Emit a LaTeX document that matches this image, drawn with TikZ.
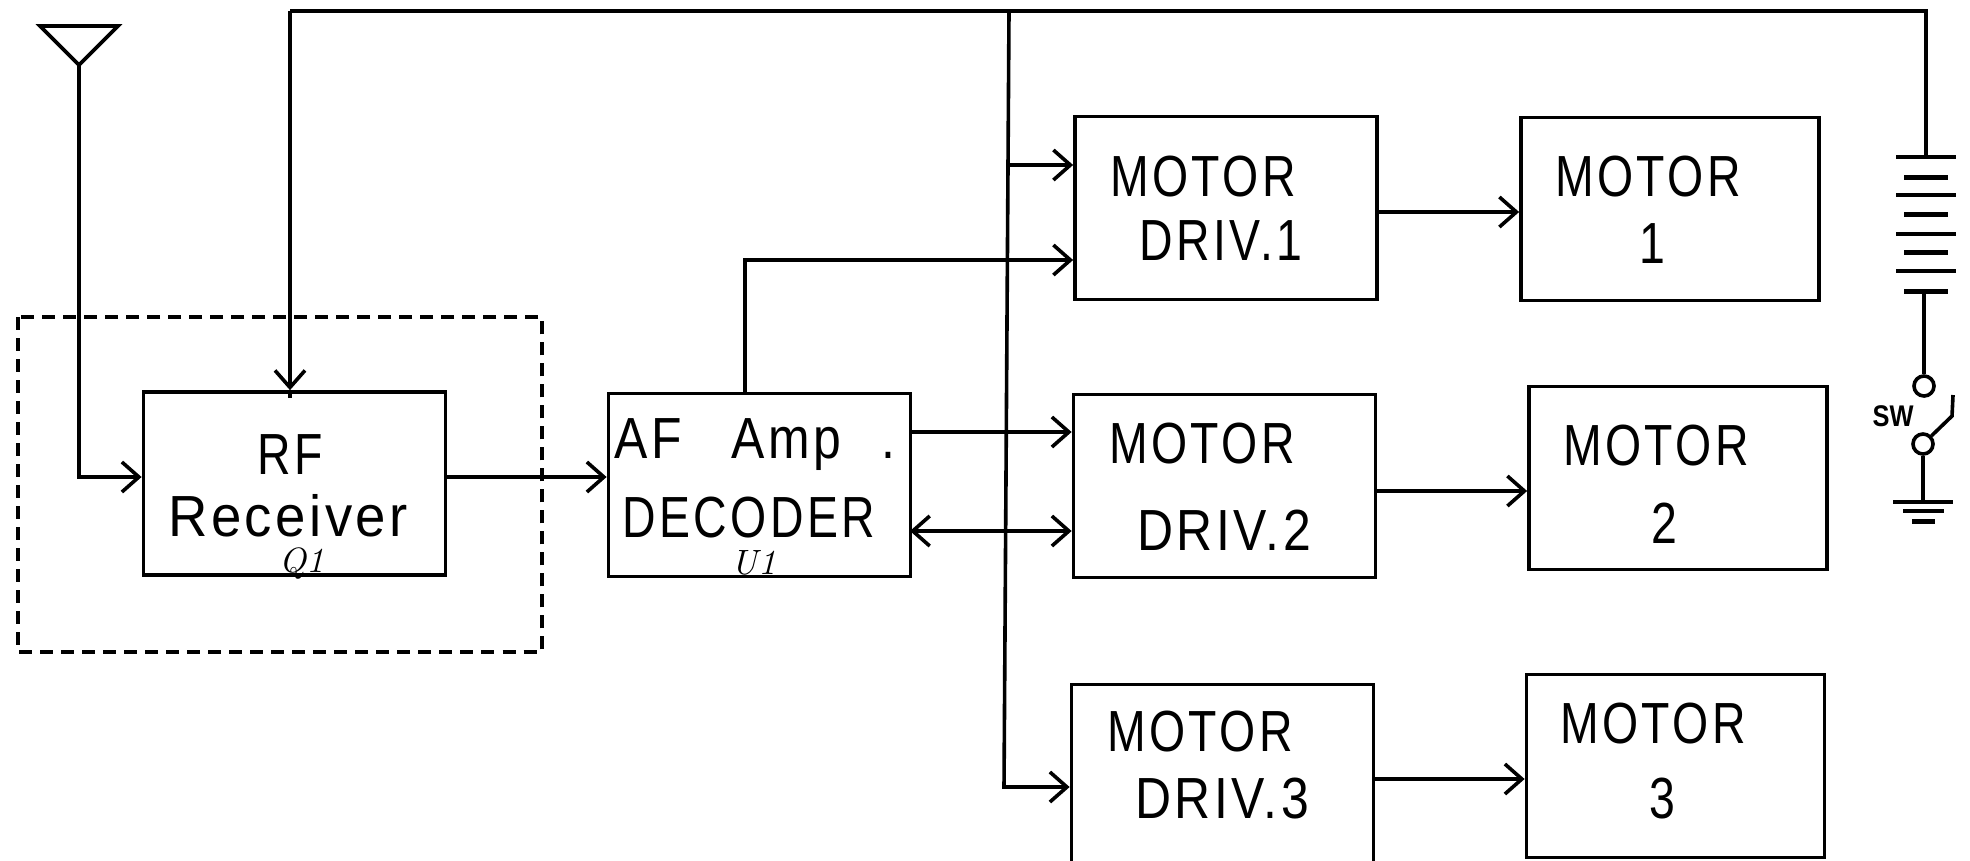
\documentclass[tikz,border=0pt]{standalone}
\usepackage{fontspec}
\setmainfont[FakeStretch=0.8,LetterSpace=6]{Liberation Sans}
\newfontfamily\handfont[Ligatures=TeX]{Latin Modern Roman}
\newfontfamily\swfont[FakeStretch=0.85]{Liberation Sans}
\usetikzlibrary{calc,positioning,arrows.meta}

\begin{document}
\begin{tikzpicture}[
	%	style def
	x=0.01cm,
	y=-0.01cm,
	important line/.style={line width=0.036cm,color=black},
	>={Straight Barb[length=0.17cm,width=0.3cm,line width=0.036cm]},
	block/.style={important line,draw,fill=none,inner sep=0pt,minimum width=3.02cm,minimum height=1.83cm},
	motor block/.style={block,minimum width=2.98cm},
	caption/.style={font=\fontsize{16.5pt}{18pt}\selectfont,inner sep=0pt},
	wide caption/.style={font=\fontsize{16.5pt}{18pt}\selectfont\addfontfeature{FakeStretch=0.86},inner sep=0pt},
	wider caption/.style={font=\fontsize{16.5pt}{18pt}\selectfont\addfontfeature{FakeStretch=0.94},inner sep=0pt},
	hand/.style={font=\handfont\itshape\fontsize{10pt}{12pt}\selectfont,inner sep=0pt},
	long plate/.style={line width=0.036cm},
	short plate/.style={line width=0.05cm},
	terminal/.style={draw,circle,important line,inner sep=0pt,minimum size=0.2cm}
	]
	\useasboundingbox (0,0) rectangle (1970,860);
	\clip (0,0) rectangle (1970,860);

	% blocks
	\node[block] (RF) at (294.5,483.5) {};
	\node[block] (AF) at (759.5,485) {};
	\node[block] (DRV1) at (1226,208) {};
	\node[block] (DRV2) at (1224.5,486) {};
	\node[block,minimum height=1.95cm] (DRV3) at (1222.5,782) {};
	\node[motor block] (M1) at (1670,209) {};
	\node[motor block] (M2) at (1678,478) {};
	\node[motor block] (M3) at (1675.5,766) {};

	% block texts
	\node[caption] (RFa) at (290,455) {RF};
	\node[wider caption] (RFb) at (288,516) {Receiver};
	\node[hand] (Q1) at (302,563) {Q1};
	\node[wide caption] (AFa) at (755,445) {AF\hspace{0.5cm}Amp\hspace{0.4cm}.};
	\node[caption] (AFb) at (749,518) {DECODER};
	\node[hand] (U1) at (754,563) {U1};
	\node[caption] (D1a) at (1203,177) {MOTOR};
	\node[caption] (D1b) at (1221,241) {DRIV.1};
	\node[caption] (D2a) at (1202,444) {MOTOR};
	\node[wide caption] (D2b) at (1224,530) {DRIV.2};
	\node[caption] (D3a) at (1200,732) {MOTOR};
	\node[wide caption] (D3b) at (1222,799) {DRIV.3};
	\node[caption] (M1a) at (1648,177) {MOTOR};
	\node[caption] (M1b) at (1652,244) {1};
	\node[caption] (M2a) at (1656,446) {MOTOR};
	\node[caption] (M2b) at (1664,523) {2};
	\node[caption] (M3a) at (1653,724) {MOTOR};
	\node[caption] (M3b) at (1662,799) {3};

	% dashed screen round the receiver
	\draw[important line,dash pattern=on 0.13cm off 0.08cm] (18,317) rectangle (542,652);

	% antenna
	\draw[important line] (40,26) coordinate (antL) -- (118,26) coordinate (antR) -- (79,65) coordinate (ant) -- cycle;
	\coordinate (rfin) at (79,477);
	\draw[important line,->] (ant) -- (rfin) -- (rfin -| RF.west);

	% supply bus
	\coordinate (busL) at (290,11);
	\coordinate (busM) at (1009,11);
	\coordinate (busR) at (1926,11);
	\coordinate (busB) at (1004,787);
	\coordinate (batT) at (1926,157);
	\draw[important line] (busL) -- (busM) -- (busR) -- (batT);
	\draw[important line,->] (busL) -- (busL |- RF.north);
	\draw[important line] (busL |- RF.north) -- ++(0,8);
	\coordinate (drv1in) at (1008,165);
	\draw[important line,->] (busM) -- (drv1in) -- (drv1in -| DRV1.west);
	\draw[important line,->] (drv1in) -- (busB) -- (busB -| DRV3.west);

	% signals
	\coordinate (rfout) at (446,477);
	\draw[important line,->] (rfout) -- (rfout -| AF.west);
	\coordinate (afup) at (745,260);
	\draw[important line,->] (afup |- AF.north) -- (afup) -- (afup -| DRV1.west);
	\coordinate (afa) at (910,432);
	\draw[important line,->] (afa) -- (afa -| DRV2.west);
	\coordinate (afb) at (910,531);
	\draw[important line,<->] (afb) -- (afb -| DRV2.west);
	\coordinate (d1out) at (1377,212);
	\draw[important line,->] (d1out) -- (d1out -| M1.west);
	\coordinate (d2out) at (1376,491);
	\draw[important line,->] (d2out) -- (d2out -| M2.west);
	\coordinate (d3out) at (1373,779);
	\draw[important line,->] (d3out) -- (d3out -| M3.west);

	% battery
	\foreach \py in {157,195,234,271}
		\draw[long plate] (1926-30,\py) -- (1926+30,\py);
	\foreach \py in {177,214,252,291}
		\draw[short plate] (1926-22,\py) -- (1926+22,\py);

	% switch and ground
	\node[terminal] (swA) at (1924,386) {};
	\node[terminal] (swB) at (1923,444) {};
	\node[font=\swfont\bfseries\fontsize{8.5pt}{10pt}\selectfont,inner sep=0pt] (swT) at (1893,416) {SW};
	\coordinate (batB) at (1924,291);
	\coordinate (gnd) at (1923,502);
	\coordinate (swE) at (1952,416);
	\coordinate (swF) at (1953,395);
	\draw[important line] (batB) -- (swA);
	\draw[important line] (swB) -- (swE) -- (swF);
	\draw[important line] (swB) -- (gnd);
	\draw[long plate] (1893,502) -- (1953,502);
	\draw[long plate] (1903,511) -- (1944,511);
	\draw[short plate] (1912,521) -- (1935,521);
\end{tikzpicture}
\end{document}
